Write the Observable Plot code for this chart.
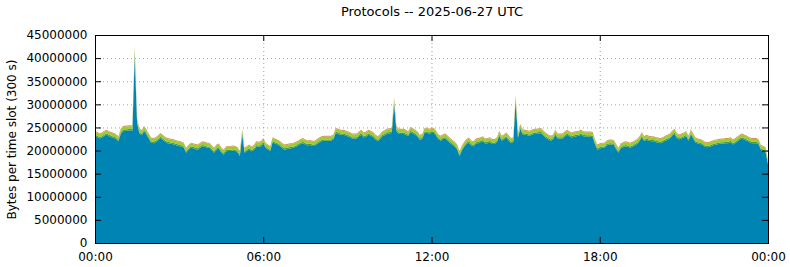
<!DOCTYPE html>
<html>
<head>
<meta charset="utf-8">
<script src="https://cdn.jsdelivr.net/npm/d3@7"></script>
<script src="https://cdn.jsdelivr.net/npm/@observablehq/plot@0.6"></script>
<style>
  html, body { margin: 0; padding: 0; background: #fff; }
  svg { display: block; }
</style>
</head>
<body>
<div id="chart"></div>
<script>
// ---- Data (values in millions of bytes per 300 s slot, slot 0 = 00:00, slot 288 = 24:00) ----
const titleText = "Protocols -- 2025-06-27 UTC";
const yLabel = "Bytes per time slot (300 s)";
const slotMinutes = 5;
const unit = 1e6;

const layerNames = ["main", "second", "third", "fourth"];
const layerColors = ["#0084b4", "#4b9a3c", "#9acd32", "#d4924a"];

const mainValues = [
  23.1,22.9,22.6,22.8,23.2,23.4,23.1,22.9,22.7,22.5,
  22.0,23.6,24.2,24.3,24.3,24.4,24.3,40.3,26.0,23.7,
  23.3,24.2,23.5,22.6,21.7,21.6,21.8,22.2,22.7,22.3,
  21.9,21.6,21.5,21.4,21.3,21.1,21.0,20.8,20.6,19.5,
  20.1,20.6,20.5,20.3,20.2,20.6,20.9,20.8,20.6,20.6,
  20.0,19.5,20.2,20.4,19.6,19.1,19.8,19.9,19.9,20.0,
  19.9,19.6,18.8,23.4,19.5,19.9,20.2,19.8,20.1,20.9,
  20.8,20.9,21.6,20.6,20.2,19.9,21.8,21.5,21.3,21.0,
  20.6,20.2,20.3,20.4,20.5,20.6,20.8,21.1,21.4,21.6,
  21.3,21.1,21.2,21.0,21.0,21.4,21.7,22.0,22.1,22.1,
  22.1,22.1,22.4,23.8,23.6,23.4,23.4,23.3,23.1,22.9,
  22.6,22.6,22.6,23.1,23.4,22.8,23.0,23.4,23.2,22.9,
  22.4,22.0,22.5,23.1,23.3,23.6,23.7,23.8,30.1,24.2,
  23.6,23.6,23.6,23.4,23.1,24.0,23.7,23.4,23.0,22.3,
  22.5,23.8,23.9,23.6,23.8,23.8,23.2,22.4,22.1,22.5,
  22.6,22.1,21.6,21.2,20.8,20.2,18.8,20.0,20.8,21.4,
  21.7,21.1,20.9,21.5,21.6,21.8,22.0,21.5,21.6,21.8,
  21.4,21.4,21.8,23.2,22.1,22.4,22.8,22.2,21.6,21.8,
  30.7,22.7,24.7,23.5,23.4,23.3,23.2,23.4,23.6,23.6,
  23.7,23.7,23.2,22.7,22.4,22.1,22.4,23.4,22.6,22.6,
  22.6,23.0,23.4,23.1,22.8,23.0,23.1,23.2,23.4,23.1,
  23.0,23.0,23.0,22.9,21.3,20.2,20.4,20.6,20.6,21.1,
  21.3,21.3,21.2,20.3,19.5,20.5,20.7,20.9,20.8,20.6,
  20.8,21.1,21.4,22.0,22.9,22.0,22.3,22.1,22.0,22.0,
  21.8,21.7,21.6,21.8,22.1,22.3,22.6,23.2,23.6,22.7,
  22.4,22.6,22.8,23.1,22.1,23.5,22.6,21.7,21.5,21.4,
  21.2,20.8,20.7,20.8,21.0,21.2,21.3,21.4,21.5,21.5,
  21.6,21.6,21.8,21.3,21.6,22.0,22.4,22.6,22.3,22.1,
  21.8,21.6,21.6,21.6,21.3,20.1,19.9,19.6,17.0
];

const secondValues = [
  0.3,0.3,0.3,0.3,0.3,0.3,0.3,0.3,0.3,0.3, 0.3,0.3,0.3,0.3,0.3,0.3,0.3,0.8,0.3,0.3,
  0.3,0.3,0.3,0.3,0.3,0.3,0.3,0.3,0.3,0.3, 0.3,0.3,0.3,0.3,0.3,0.3,0.3,0.3,0.3,0.3,
  0.3,0.3,0.3,0.3,0.3,0.3,0.3,0.3,0.3,0.3, 0.3,0.3,0.3,0.3,0.3,0.3,0.3,0.3,0.3,0.3,
  0.3,0.3,0.3,0.4,0.3,0.3,0.3,0.3,0.3,0.3, 0.3,0.3,0.3,0.3,0.3,0.3,0.3,0.3,0.3,0.3,
  0.3,0.3,0.3,0.3,0.3,0.3,0.3,0.3,0.3,0.3, 0.3,0.3,0.3,0.3,0.3,0.3,0.3,0.3,0.3,0.3,
  0.3,0.3,0.3,0.3,0.3,0.3,0.3,0.3,0.3,0.3, 0.3,0.3,0.3,0.3,0.3,0.3,0.3,0.3,0.3,0.3,
  0.3,0.3,0.3,0.3,0.3,0.3,0.3,0.3,0.4,0.3, 0.3,0.3,0.3,0.3,0.3,0.3,0.3,0.3,0.3,0.3,
  0.3,0.3,0.3,0.3,0.3,0.3,0.3,0.3,0.3,0.3, 0.3,0.3,0.3,0.3,0.3,0.3,0.3,0.3,0.3,0.3,
  0.3,0.3,0.3,0.3,0.3,0.3,0.3,0.3,0.3,0.3, 0.3,0.3,0.3,0.3,0.3,0.3,0.3,0.3,0.3,0.3,
  0.4,0.3,0.3,0.3,0.3,0.3,0.3,0.3,0.3,0.3, 0.3,0.3,0.3,0.3,0.3,0.3,0.3,0.3,0.3,0.3,
  0.3,0.3,0.3,0.3,0.3,0.3,0.3,0.3,0.3,0.3, 0.3,0.3,0.3,0.3,0.3,0.3,0.3,0.3,0.3,0.3,
  0.3,0.3,0.3,0.3,0.3,0.3,0.3,0.3,0.3,0.3, 0.3,0.3,0.3,0.3,0.3,0.3,0.3,0.3,0.3,0.3,
  0.3,0.3,0.3,0.3,0.3,0.3,0.3,0.3,0.3,0.3, 0.3,0.3,0.3,0.3,0.3,0.3,0.3,0.3,0.3,0.3,
  0.3,0.3,0.3,0.3,0.3,0.3,0.3,0.3,0.3,0.3, 0.3,0.3,0.3,0.3,0.3,0.3,0.3,0.3,0.3,0.3,
  0.3,0.3,0.3,0.3,0.3,0.3,0.3,0.3,0.3
];

const thirdValues = [
  0.6,0.6,0.6,0.6,0.6,0.6,0.6,0.6,0.6,0.6, 0.6,0.6,0.6,0.6,0.6,0.6,0.6,1.0,0.6,0.6,
  0.6,0.6,0.6,0.6,0.6,0.6,0.6,0.6,0.6,0.6, 0.6,0.6,0.6,0.6,0.6,0.6,0.6,0.6,0.6,0.6,
  0.6,0.6,0.6,0.6,0.6,0.6,0.6,0.6,0.6,0.6, 0.6,0.6,0.6,0.6,0.6,0.6,0.6,0.6,0.6,0.6,
  0.6,0.6,0.6,0.6,0.6,0.6,0.6,0.6,0.6,0.6, 0.6,0.6,0.6,0.6,0.6,0.6,0.6,0.6,0.6,0.6,
  0.6,0.6,0.6,0.6,0.6,0.6,0.6,0.6,0.6,0.6, 0.6,0.6,0.6,0.6,0.6,0.6,0.6,0.6,0.6,0.6,
  0.6,0.6,0.6,0.6,0.6,0.6,0.6,0.6,0.6,0.6, 0.6,0.6,0.6,0.6,0.6,0.6,0.6,0.6,0.6,0.6,
  0.6,0.6,0.6,0.6,0.6,0.6,0.6,0.6,0.7,0.6, 0.6,0.6,0.6,0.6,0.6,0.6,0.6,0.6,0.6,0.6,
  0.6,0.6,0.6,0.6,0.6,0.6,0.6,0.6,0.6,0.6, 0.6,0.6,0.6,0.6,0.6,0.6,0.6,0.6,0.6,0.6,
  0.6,0.6,0.6,0.6,0.6,0.6,0.6,0.6,0.6,0.6, 0.6,0.6,0.6,0.6,0.6,0.6,0.6,0.6,0.6,0.6,
  0.7,0.6,0.6,0.6,0.6,0.6,0.6,0.6,0.6,0.6, 0.6,0.6,0.6,0.6,0.6,0.6,0.6,0.6,0.6,0.6,
  0.6,0.6,0.6,0.6,0.6,0.6,0.6,0.6,0.6,0.6, 0.6,0.6,0.6,0.6,0.6,0.6,0.6,0.6,0.6,0.6,
  0.6,0.6,0.6,0.6,0.6,0.6,0.6,0.6,0.6,0.6, 0.6,0.6,0.6,0.6,0.6,0.6,0.6,0.6,0.6,0.6,
  0.6,0.6,0.6,0.6,0.6,0.6,0.6,0.6,0.6,0.6, 0.6,0.6,0.6,0.6,0.6,0.6,0.6,0.6,0.6,0.6,
  0.6,0.6,0.6,0.6,0.6,0.6,0.6,0.6,0.6,0.6, 0.6,0.6,0.6,0.6,0.6,0.6,0.6,0.6,0.6,0.6,
  0.6,0.6,0.6,0.6,0.6,0.6,0.6,0.6,0.4
];

const fourthValues = [
  0.2,0.2,0.2,0.2,0.2,0.2,0.2,0.2,0.2,0.2, 0.2,0.2,0.2,0.2,0.2,0.2,0.2,0.6,0.2,0.2,
  0.2,0.2,0.2,0.2,0.2,0.2,0.2,0.2,0.2,0.2, 0.2,0.2,0.2,0.2,0.2,0.2,0.2,0.2,0.2,0.2,
  0.2,0.2,0.2,0.2,0.2,0.2,0.2,0.2,0.2,0.2, 0.2,0.2,0.2,0.2,0.2,0.2,0.2,0.2,0.2,0.2,
  0.2,0.2,0.2,0.2,0.2,0.2,0.2,0.2,0.2,0.2, 0.2,0.2,0.2,0.2,0.2,0.2,0.2,0.2,0.2,0.2,
  0.2,0.2,0.2,0.2,0.2,0.2,0.2,0.2,0.2,0.2, 0.2,0.2,0.2,0.2,0.2,0.2,0.2,0.2,0.2,0.2,
  0.2,0.2,0.2,0.2,0.2,0.2,0.2,0.2,0.2,0.2, 0.2,0.2,0.2,0.2,0.2,0.2,0.2,0.2,0.2,0.2,
  0.2,0.2,0.2,0.2,0.2,0.2,0.2,0.2,0.3,0.2, 0.2,0.2,0.2,0.2,0.2,0.2,0.2,0.2,0.2,0.2,
  0.2,0.2,0.2,0.2,0.2,0.2,0.2,0.2,0.2,0.2, 0.2,0.2,0.2,0.2,0.2,0.2,0.2,0.2,0.2,0.2,
  0.2,0.2,0.2,0.2,0.2,0.2,0.2,0.2,0.2,0.2, 0.2,0.2,0.2,0.2,0.2,0.2,0.2,0.2,0.2,0.2,
  0.3,0.2,0.2,0.2,0.2,0.2,0.2,0.2,0.2,0.2, 0.2,0.2,0.2,0.2,0.2,0.2,0.2,0.2,0.2,0.2,
  0.2,0.2,0.2,0.2,0.2,0.2,0.2,0.2,0.2,0.2, 0.2,0.2,0.2,0.2,0.2,0.2,0.2,0.2,0.2,0.2,
  0.2,0.2,0.2,0.2,0.2,0.2,0.2,0.2,0.2,0.2, 0.2,0.2,0.2,0.2,0.2,0.2,0.2,0.2,0.2,0.2,
  0.2,0.2,0.2,0.2,0.2,0.2,0.2,0.2,0.2,0.2, 0.2,0.2,0.2,0.2,0.2,0.2,0.2,0.2,0.2,0.2,
  0.2,0.2,0.2,0.2,0.2,0.2,0.2,0.2,0.2,0.2, 0.2,0.2,0.2,0.2,0.2,0.2,0.2,0.2,0.2,0.2,
  0.2,0.2,0.2,0.2,0.2,0.2,0.2,0.2,0.2
];

const yTicks = [0, 5000000, 10000000, 15000000, 20000000, 25000000, 30000000, 35000000, 40000000, 45000000];
const xTicks = [0, 6, 12, 18, 24];
const xTickLabels = ["00:00", "06:00", "12:00", "18:00", "00:00"];
const xGrid = [6, 12, 18];
const yGrid = [5000000, 10000000, 15000000, 20000000, 25000000, 30000000, 35000000, 40000000];

// ---- Build long table ----
const layerArrays = [mainValues, secondValues, thirdValues, fourthValues];
const rows = [];
layerArrays.forEach((arr, li) => {
  arr.forEach((v, i) => rows.push({hour: i * slotMinutes / 60, layer: layerNames[li], value: v * unit}));
});

const W = 790, H = 267;
const mLeft = 95, mRight = 22, mTop = 35, mBottom = 24;
const frameW = W - mLeft - mRight, frameH = H - mTop - mBottom;
const tickLen = 6;
const font = "DejaVu Sans, sans-serif";

const chart = Plot.plot({
  width: W, height: H,
  marginLeft: mLeft, marginRight: mRight, marginTop: mTop, marginBottom: mBottom,
  style: {fontFamily: font, fontSize: "12px", color: "#000", background: "#fff"},
  x: {domain: [0, 24], axis: null},
  y: {domain: [0, 45000000], axis: null},
  color: {domain: layerNames, range: layerColors},
  marks: [
    Plot.ruleY(yGrid, {stroke: "#a0a0a0", strokeDasharray: "1,3", strokeWidth: 1}),
    Plot.ruleX(xGrid, {stroke: "#a0a0a0", strokeDasharray: "1,3", strokeWidth: 1}),
    Plot.areaY(rows, {x: "hour", y: "value", fill: "layer", order: layerNames}),
    // inward ticks
    Plot.tickY(yTicks, {y: d => d, insetRight: frameW - tickLen, stroke: "#000"}),
    Plot.tickY(yTicks, {y: d => d, insetLeft: frameW - tickLen, stroke: "#000"}),
    Plot.tickX(xTicks, {x: d => d, insetTop: frameH - tickLen, stroke: "#000"}),
    Plot.tickX(xTicks, {x: d => d, insetBottom: frameH - tickLen, stroke: "#000"}),
    Plot.frame({stroke: "#000", strokeWidth: 1}),
    // tick labels
    Plot.text(yTicks, {x: 0, y: d => d, text: d => String(d), textAnchor: "end", dx: -8, fontSize: 12, fill: "#000"}),
    Plot.text(xTicks, {x: d => d, y: 0, text: (d, i) => xTickLabels[i], dy: 14, fontSize: 12, fill: "#000"}),
    // title & y label
    Plot.text([titleText], {frameAnchor: "top", lineAnchor: "middle", dy: -24, fontSize: 13, fill: "#000"}),
    Plot.text([yLabel], {frameAnchor: "left", textAnchor: "middle", lineAnchor: "middle", dx: -83, rotate: -90, fontSize: 12, fill: "#000"})
  ]
});

document.getElementById("chart").appendChild(chart);
</script>
</body>
</html>
